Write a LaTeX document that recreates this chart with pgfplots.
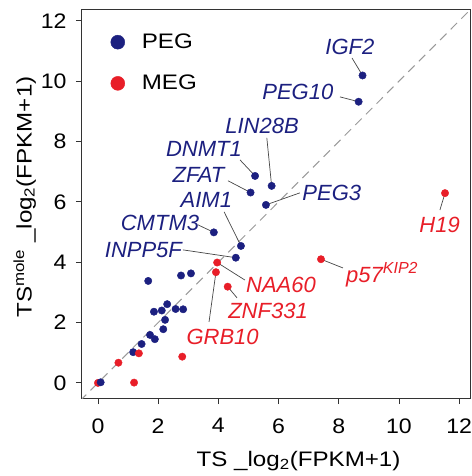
\documentclass[border=0pt]{standalone}
\usepackage{pgfplots}
\pgfplotsset{compat=1.18}
\usepackage{fontspec}
\setmainfont{Liberation Sans}

\definecolor{pegblue}{RGB}{28,32,128}
\definecolor{megred}{RGB}{232,30,40}
\definecolor{leader}{RGB}{70,70,70}

% reference text is a bit wider than plain Arial
\newcommand{\wide}[1]{\scalebox{1.15}[1]{#1}}
\newcommand{\tickw}[1]{\scalebox{1.1}[1]{#1}}

\begin{document}
\begin{tikzpicture}[x=1pt,y=1pt]
  \useasboundingbox (-82,-78) rectangle (389,398);
  \begin{axis}[
      at={(0,0)}, anchor=south west,
      scale only axis,
      width=388pt, height=388pt,
      xmin=-0.53, xmax=12.36,
      ymin=-0.5, ymax=12.36,
      xtick={0,2,...,12}, ytick={0,2,...,12},
      xtick pos=bottom, ytick pos=left,
      tick align=outside,
      major tick length=6pt,
      every tick/.style={black!80, line width=0.9pt},
      axis line style={black!80, line width=1pt},
      font=\fontsize{21}{24}\selectfont,
      /pgf/number format/assume math mode=true,
      xticklabel={\tickw{\pgfmathprintnumber{\tick}}},
      yticklabel={\tickw{\pgfmathprintnumber{\tick}}},
      xticklabel style={yshift=-11pt},
      yticklabel style={xshift=-6pt},
      xlabel={\wide{TS \_log\textsubscript{2}(FPKM+1)}},
      ylabel={\wide{TS\textsuperscript{mole} \_log\textsubscript{2}(FPKM+1)}},
      xlabel style={at={(axis description cs:0.558,0)}, anchor=north, yshift=-50pt},
      ylabel style={at={(ticklabel cs:0.518)}, yshift=-2pt},
      clip=true,
      legend style={at={(axis cs:0.32,11.7)}, anchor=north west, draw=none, fill=none,
        font=\fontsize{21}{24}\selectfont, row sep=21pt, column sep=15pt},
      legend cell align=left,
      legend image post style={mark size=7pt},
    ]
    % diagonal
    \addplot[forget plot, gray!80, line width=1pt, dash pattern=on 9pt off 6pt]
      coordinates {(-0.6,-0.6) (12.5,12.5)};

    % PEG
    \addplot[only marks, mark=*, mark size=3.7pt, pegblue, mark options={draw=pegblue, fill=pegblue}]
      coordinates {
        (8.79,10.19) (8.66,9.32) (5.22,6.86) (5.77,6.53) (5.07,6.31) (5.58,5.90)
        (3.85,4.99) (4.75,4.54) (4.58,4.15)
        (1.67,3.38) (2.76,3.56) (3.09,3.63) (1.86,2.36) (2.12,2.40) (2.30,2.61)
        (2.58,2.45) (2.83,2.44) (2.23,2.09) (2.17,1.78) (1.73,1.59) (1.89,1.45)
        (1.45,1.29) (1.17,1.02)
      };
    \addlegendentry{\wide{PEG}}

    % MEG
    \addplot[only marks, mark=*, mark size=3.7pt, megred, mark options={draw=megred, fill=megred}]
      coordinates {
        (11.53,6.29) (7.41,4.10) (3.96,3.99) (3.92,3.67) (4.31,3.19)
        (1.36,0.98) (0.68,0.67) (0.00,0.00) (1.20,0.01) (2.80,0.87)
      };
    \addlegendentry{\wide{MEG}}

    \addplot[forget plot, only marks, mark=*, mark size=3.7pt, pegblue, mark options={draw=pegblue, fill=pegblue}]
      coordinates {(0.09,0.02)};

    % leader lines
    \draw[leader, line width=0.7pt]
      (axis cs:8.44,10.77) -- (axis cs:8.79,10.19)
      (axis cs:8.04,9.48) -- (axis cs:8.66,9.32)
      (axis cs:5.61,8.12) -- (axis cs:5.77,6.53)
      (axis cs:4.72,7.39) -- (axis cs:5.22,6.86)
      (axis cs:4.32,6.70) -- (axis cs:5.07,6.31)
      (axis cs:4.19,5.67) -- (axis cs:4.75,4.54)
      (axis cs:6.71,6.30) -- (axis cs:5.58,5.90)
      (axis cs:3.32,5.24) -- (axis cs:3.85,4.99)
      (axis cs:2.82,4.41) -- (axis cs:4.58,4.15)
      (axis cs:4.88,3.41) -- (axis cs:3.96,3.99)
      (axis cs:4.62,2.82) -- (axis cs:4.31,3.19)
      (axis cs:3.69,2.02) -- (axis cs:3.92,3.67)
      (axis cs:8.14,3.81) -- (axis cs:7.41,4.10)
      (axis cs:11.36,5.73) -- (axis cs:11.53,6.29);

    % gene labels
    \begin{scope}[every node/.style={font=\fontsize{22}{24}\selectfont\itshape, inner sep=0pt}]
      \node[pegblue] at (axis cs:8.37,11.12) {IGF2};
      \node[pegblue] at (axis cs:6.64,9.63) {PEG10};
      \node[pegblue] at (axis cs:5.45,8.52) {LIN28B};
      \node[pegblue] at (axis cs:3.52,7.76) {DNMT1};
      \node[pegblue] at (axis cs:3.34,6.89) {ZFAT};
      \node[pegblue] at (axis cs:3.60,6.07) {AIM1};
      \node[pegblue] at (axis cs:7.77,6.30) {PEG3};
      \node[pegblue] at (axis cs:2.06,5.30) {CMTM3};
      \node[pegblue] at (axis cs:1.51,4.41) {INPP5F};
      \node[megred] at (axis cs:6.08,3.25) {NAA60};
      \node[megred] at (axis cs:5.65,2.39) {ZNF331};
      \node[megred] at (axis cs:4.14,1.52) {GRB10};
      \node[megred, anchor=base west] at (axis cs:8.24,3.33)
        {p57\raisebox{0.42em}{\fontsize{16}{16}\selectfont\itshape KIP2}};
      \node[megred] at (axis cs:11.35,5.24) {H19};
    \end{scope}
  \end{axis}
\end{tikzpicture}
\end{document}
